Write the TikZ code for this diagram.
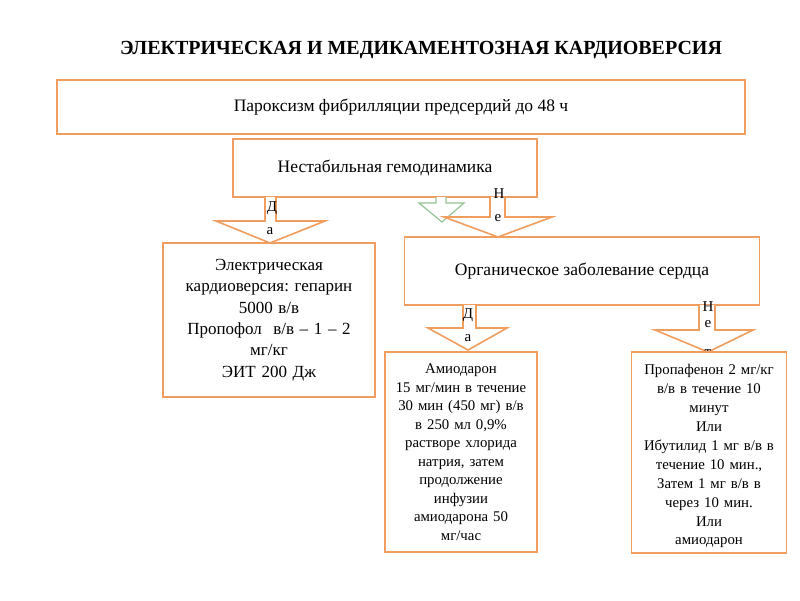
\documentclass[tikz,border=0pt]{standalone}
\usepackage{fontspec}
\setmainfont{Liberation Serif}
\frenchspacing
\definecolor{boxor}{RGB}{240,158,96}
\definecolor{arrgr}{RGB}{150,195,150}
\begin{document}
\begin{tikzpicture}[x=1pt,y=-1pt,
  box/.style={draw=boxor,line width=1.9pt,fill=white,inner sep=0pt,align=center},
  barrow/.style={draw=boxor,line width=1.6pt,fill=white,line join=miter},
  garrow/.style={draw=arrgr,line width=1.2pt,fill=white},
  lbl/.style={inner sep=0pt,font=\fontsize{15}{15}\selectfont}]
\useasboundingbox (0,0) rectangle (800,600);
\fill[white] (0,0) rectangle (800,600);
% title
\node[inner sep=0pt,font=\fontsize{20}{22}\selectfont\bfseries] (title) at (421,50) {ЭЛЕКТРИЧЕСКАЯ И МЕДИКАМЕНТОЗНАЯ КАРДИОВЕРСИЯ};
% top boxes
\node[box,minimum width=688pt,minimum height=54pt,font=\fontsize{17.5}{19}\selectfont] (b1) at (401,107) {Пароксизм фибрилляции предсердий до 48 ч};
\node[box,minimum width=304pt,minimum height=58pt,font=\fontsize{17.5}{19}\selectfont] (b2) at (385,168) {Нестабильная гемодинамика};
% block arrows from b2
\draw[garrow] (436,197) -- (436,203) -- (419,203) -- (442,222) -- (464,203) -- (446,203) -- (446,197);
\draw[barrow] (265,197) -- (265,221) -- (216,221) -- (270,243) -- (325,221) -- (276,221) -- (276,197);
\draw[barrow] (490,197) -- (490,217) -- (444,217) -- (498,237) -- (552,217) -- (505,217) -- (505,197);
\node[lbl] (d1) at (272,208) {Д};
\node[lbl] (a1) at (270,231) {а};
\node[lbl] (n1) at (499,194) {Н};
\node[lbl] (e1) at (498,218) {е};
% second level
\node[box,minimum width=212pt,minimum height=154pt,text width=206pt,font=\fontsize{17}{21.3}\selectfont] (b3) at (269,320)
  {Электрическая\\кардиоверсия: гепарин\\5000 в/в\\Пропофол\ \ в/в – 1 – 2\\мг/кг\\ЭИТ 200 Дж\\[4pt]};
\node[box,minimum width=355pt,minimum height=68pt,font=\fontsize{17.5}{19}\selectfont] (b4) at (582,271) {Органическое заболевание сердца};
% arrows from b4
\draw[barrow] (463,305) -- (463,328) -- (428,328) -- (468,350) -- (507,328) -- (476,328) -- (476,305);
\draw[barrow] (699,305) -- (699,330) -- (655,330) -- (708,352) -- (753,330) -- (715,330) -- (715,305);
\node[lbl] (d2) at (468,315) {Д};
\node[lbl] (a2) at (468,338) {а};
\node[lbl] (n2) at (708,307) {Н};
\node[lbl] (e2) at (708,324) {е};
\node[lbl] (t2) at (708,353) {т};
% bottom boxes
\node[box,minimum width=152pt,minimum height=200pt,text width=150pt,font=\fontsize{14.8}{18.5}\selectfont] (b5) at (461,452)
  {Амиодарон\\15 мг/мин в течение\\30 мин (450 мг) в/в\\в 250 мл 0,9\%\\растворе хлорида\\натрия, затем\\продолжение\\инфузии\\амиодарона 50\\мг/час\\[6pt]};
\node[box,minimum width=155pt,minimum height=201pt,text width=153pt,font=\fontsize{14.8}{18.9}\selectfont] (b6) at (709,452.5)
  {\\[-1pt]Пропафенон 2 мг/кг\\в/в в течение 10\\минут\\Или\\Ибутилид 1 мг в/в в\\течение 10 мин.,\\Затем 1 мг в/в в\\через 10 мин.\\Или\\амиодарон};
\end{tikzpicture}
\end{document}
